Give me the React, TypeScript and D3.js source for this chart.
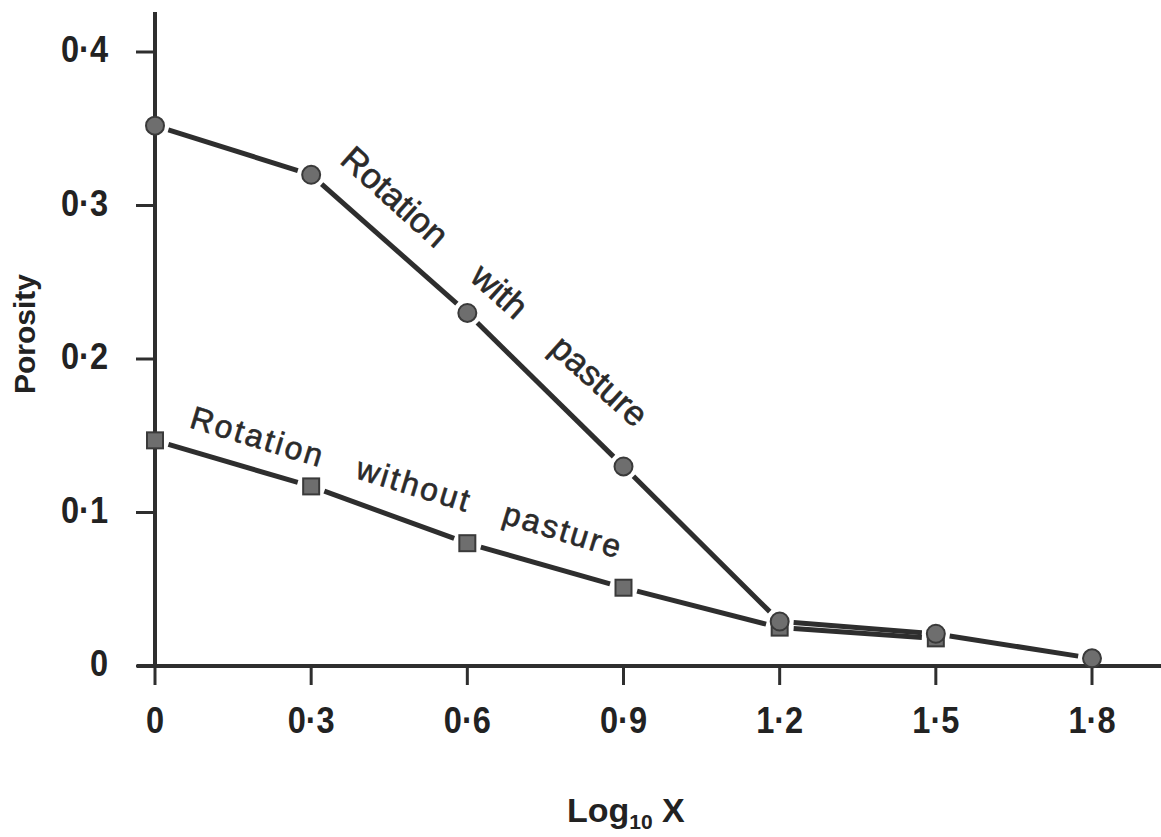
import React from "react";
import * as d3 from "d3";

// Porosity against log10 X for two crop rotations
const logX = [0, 0.3, 0.6, 0.9, 1.2, 1.5, 1.8];
const withPasture = [0.352, 0.32, 0.23, 0.13, 0.029, 0.021, 0.005];
const withoutPasture = [0.147, 0.117, 0.08, 0.051, 0.025, 0.018];
const xTicks = [0, 0.3, 0.6, 0.9, 1.2, 1.5, 1.8];
const yTicks = [0, 0.1, 0.2, 0.3, 0.4];

const W = 1161;
const H = 837;
const FONT = "'Liberation Sans', Arial, Helvetica, sans-serif";
const INK = "#2e2e2e";

const fmt = (v: number) => (v === 0 ? "0" : v.toFixed(1).replace(".", "\u00b7"));

export default function App() {
  const x = d3.scaleLinear().domain([0, 1.8]).range([155, 1092]);
  const y = d3.scaleLinear().domain([0, 0.4]).range([666, 52]);

  const pts = (vals: number[]) => vals.map((v, i) => [x(logX[i]), y(v)] as [number, number]);
  const circ = pts(withPasture);
  const sq = pts(withoutPasture);

  // segments between markers, trimmed so a small gap shows around each marker
  const segs = (p: [number, number][], gap: number) =>
    p.slice(1).map((b, i) => {
      const a = p[i];
      const dx = b[0] - a[0];
      const dy = b[1] - a[1];
      const len = Math.hypot(dx, dy);
      const ux = dx / len;
      const uy = dy / len;
      return [a[0] + ux * gap, a[1] + uy * gap, b[0] - ux * gap, b[1] - uy * gap];
    });

  const line = d3.line();

  return (
    <svg
      width={W}
      height={H}
      style={{ position: "absolute", left: 0, top: 0, background: "#fff" }}
      fontFamily={FONT}
    >
      {/* axes */}
      <line x1={x(0)} x2={x(0)} y1={12} y2={y(0)} stroke={INK} strokeWidth={4} />
      <line x1={137} x2={W} y1={y(0)} y2={y(0)} stroke={INK} strokeWidth={4} />
      {yTicks.map((t) => (
        <g key={"y" + t}>
          <line x1={x(0) - 19} x2={x(0)} y1={y(t)} y2={y(t)} stroke={INK} strokeWidth={3} />
          <text
            transform={`translate(108,${y(t) + 10}) scale(0.88,1)`}
            textAnchor="end"
            fontSize={37}
            fontWeight="bold"
            fill="#222"
          >
            {fmt(t)}
          </text>
        </g>
      ))}
      {xTicks.map((t) => (
        <g key={"x" + t}>
          <line x1={x(t)} x2={x(t)} y1={y(0)} y2={y(0) + 19} stroke={INK} strokeWidth={3} />
          <text
            transform={`translate(${x(t)},733) scale(0.88,1)`}
            textAnchor="middle"
            fontSize={37}
            fontWeight="bold"
            fill="#222"
          >
            {fmt(t)}
          </text>
        </g>
      ))}

      {/* axis titles */}
      <text
        transform="translate(35,334) rotate(-90)"
        textAnchor="middle"
        fontSize={30}
        fontWeight="bold"
        fill="#222"
      >
        Porosity
      </text>
      <text x={567} y={822} fontSize={34} fontWeight="bold" fill="#222">
        Log
        <tspan fontSize={21} dy={7}>10</tspan>
        <tspan dy={-7}> X</tspan>
      </text>

      {/* series lines */}
      {segs(circ, 14).map((s, i) => (
        <path key={"c" + i} d={line([[s[0], s[1]], [s[2], s[3]]]) || ""} stroke={INK} strokeWidth={5} fill="none" />
      ))}
      {segs(sq, 14).map((s, i) => (
        <path key={"s" + i} d={line([[s[0], s[1]], [s[2], s[3]]]) || ""} stroke={INK} strokeWidth={5} fill="none" />
      ))}

      {/* markers */}
      {sq.map((p, i) => (
        <rect
          key={"sq" + i}
          x={p[0] - 8}
          y={p[1] - 8}
          width={16}
          height={16}
          fill="#6e6e6e"
          stroke="#3a3a3a"
          strokeWidth={2}
        />
      ))}
      {circ.map((p, i) => (
        <circle key={"ci" + i} cx={p[0]} cy={p[1]} r={9} fill="#6e6e6e" stroke="#3a3a3a" strokeWidth={2} />
      ))}

      {/* series labels */}
      <text
        transform={`translate(${x(0.637)},${y(0.2414)}) rotate(42)`}
        textAnchor="middle"
        fontSize={35}
        fill="#2a2a2a"
        stroke="#2a2a2a"
        strokeWidth={0.6}
        wordSpacing={35}
      >
        Rotation with pasture
      </text>
      <text
        transform={`translate(${x(0.478)},${y(0.1127)}) rotate(17)`}
        textAnchor="middle"
        fontSize={32}
        fill="#2a2a2a"
        stroke="#2a2a2a"
        strokeWidth={0.6}
        letterSpacing={2.5}
        wordSpacing={23}
      >
        Rotation without pasture
      </text>
    </svg>
  );
}
